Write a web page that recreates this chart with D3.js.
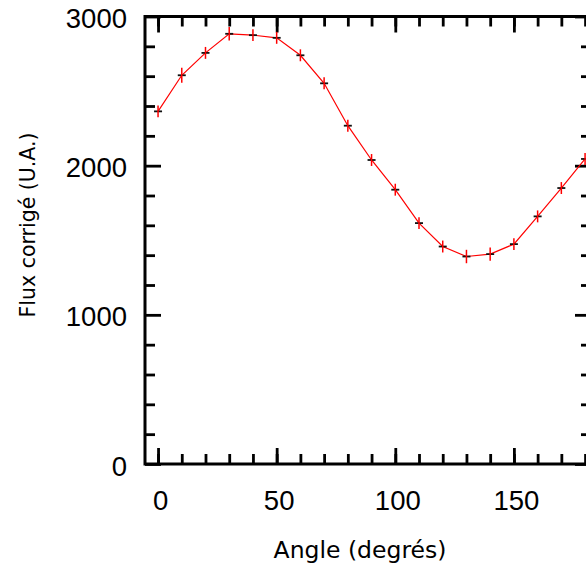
<!DOCTYPE html>
<html>
<head>
<meta charset="utf-8">
<script src="https://cdn.jsdelivr.net/npm/d3@7"></script>
<style>
  html, body { margin: 0; padding: 0; background: #fff; overflow: hidden; }
  svg { display: block; }
</style>
</head>
<body>
<script>
// ---- data ----
const angles = [0, 10, 20, 30, 40, 50, 60, 70, 80, 90, 100, 110, 120, 130, 140, 150, 160, 170, 180];
const flux   = [2364, 2606, 2756, 2884, 2875, 2857, 2740, 2552, 2268, 2038, 1839, 1615, 1458, 1391, 1407, 1474, 1660, 1850, 2045];
const errors = [40, 50, 40, 45, 40, 40, 40, 40, 40, 40, 40, 40, 40, 45, 45, 40, 40, 40, 40];
const xMajorTicks = [0, 50, 100, 150];
const xMinorTicks = [0, 10, 20, 30, 40, 50, 60, 70, 80, 90, 100, 110, 120, 130, 140, 150, 160, 170, 180];
const yMajorTicks = [0, 1000, 2000, 3000];
const yMinorTicks = [200, 400, 600, 800, 1200, 1400, 1600, 1800, 2200, 2400, 2600, 2800];
const xTitle = "Angle (degrés)";
const yTitle = "Flux corrigé (U.A.)";

// ---- layout ----
const W = 586, H = 568;
const L = 145, R = 591, T = 16.5, B = 464;

const svg = d3.select("body").append("svg").attr("width", W).attr("height", H);

const x = d3.scaleLinear().domain([-5.5, 182.5]).range([L, R]);
const y = d3.scaleLinear().domain([0, 3000]).range([B, T]);

const tickFont = "'Liberation Sans', Arial, sans-serif";
const titleFont = "'DejaVu Sans', sans-serif";

function styleAxis(g) {
  g.select(".domain").remove();
  g.selectAll(".tick line").attr("stroke", "#000").attr("stroke-width", 2.8);
  g.selectAll(".tick text").attr("fill", "#000").style("font-family", tickFont).style("font-size", "27.5px");
}

// bottom
svg.append("g").attr("transform", `translate(0,${B})`)
  .call(d3.axisBottom(x).tickValues(xMinorTicks).tickSize(-10).tickFormat(""))
  .call(styleAxis);
svg.append("g").attr("transform", `translate(0,${B})`)
  .call(d3.axisBottom(x).tickValues(xMajorTicks).tickSize(-16).tickPadding(26).tickFormat(d3.format("d")))
  .call(styleAxis)
  .call(g => g.selectAll(".tick text").attr("x", 2));
// top
svg.append("g").attr("transform", `translate(0,${T})`)
  .call(d3.axisTop(x).tickValues(xMinorTicks).tickSize(-10).tickFormat(""))
  .call(styleAxis);
svg.append("g").attr("transform", `translate(0,${T})`)
  .call(d3.axisTop(x).tickValues(xMajorTicks).tickSize(-16).tickFormat(""))
  .call(styleAxis);
// left
svg.append("g").attr("transform", `translate(${L},0)`)
  .call(d3.axisLeft(y).tickValues(yMinorTicks).tickSize(-10).tickFormat(""))
  .call(styleAxis);
svg.append("g").attr("transform", `translate(${L},0)`)
  .call(d3.axisLeft(y).tickValues(yMajorTicks).tickSize(-16).tickPadding(18).tickFormat(d3.format("d")))
  .call(styleAxis)
  .call(g => g.selectAll(".tick text").attr("dy", "0.4em"));
// right
svg.append("g").attr("transform", `translate(${R},0)`)
  .call(d3.axisRight(y).tickValues(yMinorTicks).tickSize(-10).tickFormat(""))
  .call(styleAxis);
svg.append("g").attr("transform", `translate(${R},0)`)
  .call(d3.axisRight(y).tickValues(yMajorTicks).tickSize(-16).tickFormat(""))
  .call(styleAxis);

// frame
svg.append("rect")
  .attr("x", L).attr("y", T).attr("width", R - L).attr("height", B - T)
  .attr("fill", "none").attr("stroke", "#000").attr("stroke-width", 3);

// data line
const pts = angles.map((a, i) => ({ a, f: flux[i], e: errors[i] }));
svg.append("path").datum(pts)
  .attr("fill", "none").attr("stroke", "#ff0000").attr("stroke-width", 1.2)
  .attr("d", d3.line().x(d => x(d.a)).y(d => y(d.f)));

// black horizontal markers
svg.append("g").selectAll("line").data(pts).join("line")
  .attr("x1", d => x(d.a) - 4).attr("x2", d => x(d.a) + 4)
  .attr("y1", d => y(d.f)).attr("y2", d => y(d.f))
  .attr("stroke", "#111").attr("stroke-width", 1.8);

// red vertical error bars
svg.append("g").selectAll("line").data(pts).join("line")
  .attr("x1", d => x(d.a)).attr("x2", d => x(d.a))
  .attr("y1", d => y(d.f - d.e)).attr("y2", d => y(d.f + d.e))
  .attr("stroke", "#ff0000").attr("stroke-width", 1.5);

// titles
svg.append("text")
  .attr("x", 360).attr("y", 558)
  .attr("text-anchor", "middle")
  .style("font-family", titleFont).style("font-size", "23.5px")
  .attr("fill", "#000")
  .text(xTitle);

svg.append("text")
  .attr("transform", "translate(35,225) rotate(-90)")
  .attr("text-anchor", "middle")
  .style("font-family", titleFont).style("font-size", "20.5px")
  .attr("fill", "#000")
  .text(yTitle);
</script>
</body>
</html>
